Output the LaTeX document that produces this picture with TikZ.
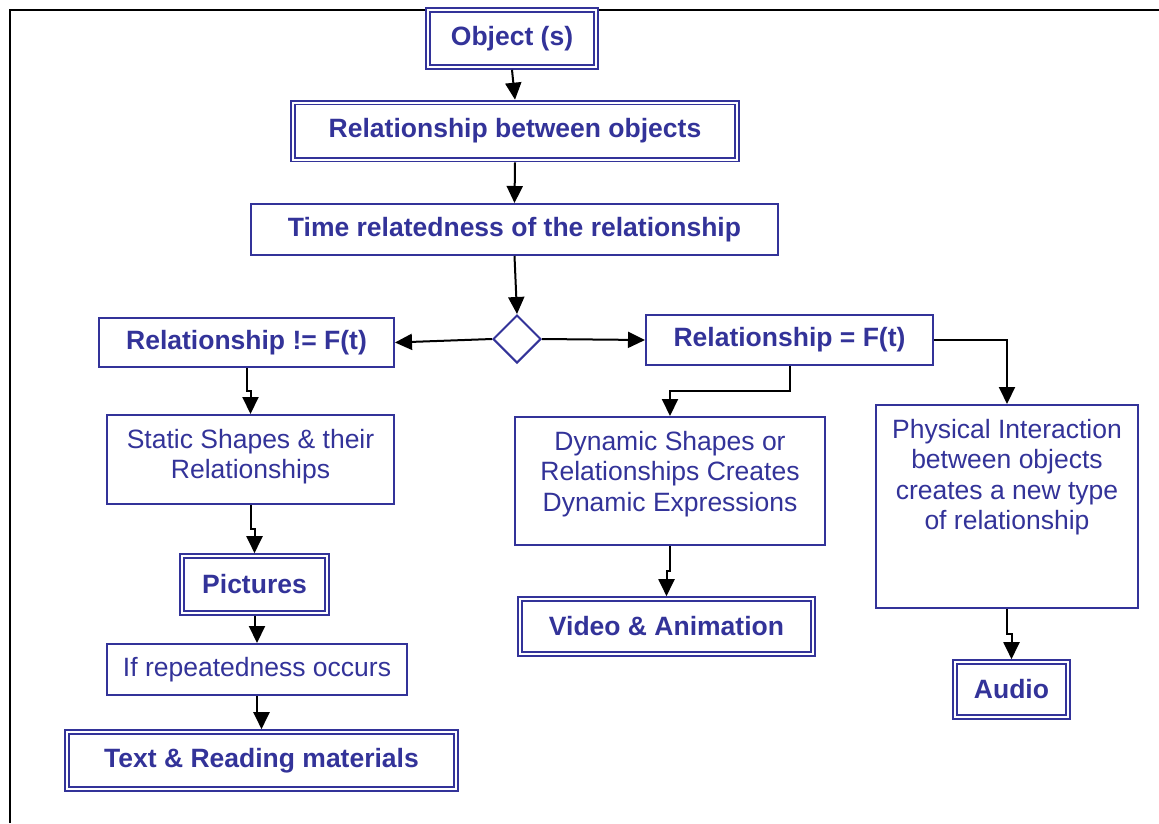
\documentclass[tikz,border=0pt]{standalone}
\usepackage{fontspec}
\setmainfont{Liberation Sans}
\usetikzlibrary{shapes.geometric,arrows.meta,calc}
\definecolor{flowblue}{RGB}{51,51,153}
% text that starts at the top of a tall box
\newcommand{\toptext}[3]{\parbox[c][#2][t]{#1}{\centering\vspace*{14pt}#3\par}}

\begin{document}
\begin{tikzpicture}[x=1pt, y=-1pt,
	every node/.style={font=\fontsize{26.5}{30.5}\selectfont, text=flowblue, inner sep=0pt},
	plainbox/.style={draw=flowblue, line width=2pt, fill=white, align=center},
	boldbox/.style={plainbox, font=\fontsize{26.5}{30.5}\selectfont\bfseries},
	dblbox/.style={draw=flowblue, line width=1.8pt, double, double distance=2pt, outer sep=2.8pt,
		fill=white, font=\fontsize{26.5}{30.5}\selectfont\bfseries},
	decision/.style={diamond, draw=flowblue, line width=2pt, fill=white, minimum size=48pt},
	arr/.style={line width=2pt, -{Triangle[length=17pt, width=16pt]}}]
	\useasboundingbox (0,0) rectangle (1159,823);
	
	% 1. frame
	\draw[line width=2pt] (9.5,823) -- (9.5,10) -- (1159,10);
	
	% 2. top of the chart
	\node[dblbox, minimum width=168pt, minimum height=57pt] (obj) at (512,38.5) {Object (s)};
	\node[dblbox, minimum width=444pt, minimum height=57pt] (rel) at (515,131) {Relationship between objects};
	\node[boldbox, minimum width=527pt, minimum height=51pt] (time) at (514.5,229.5) {Time relatedness of the relationship};
	\node[decision] (dec) at (517,339) {};
	
	% 3. left branch
	\node[boldbox, minimum width=295pt, minimum height=49pt] (neq) at (246.5,342.5) {Relationship != F(t)};
	\node[plainbox] (static) at (250.5,459.5) {\toptext{287pt}{89pt}{Static Shapes \& their\\Relationships}};
	\node[dblbox, minimum width=145pt, minimum height=57pt] (pic) at (254.5,584.5) {Pictures};
	\node[plainbox, minimum width=300pt, minimum height=51pt] (rep) at (257,669.5) {If repeatedness occurs};
	\node[dblbox, minimum width=389pt, minimum height=57pt] (txt) at (261.5,760.5) {Text \& Reading materials};
	
	% 4. right branch
	\node[boldbox, minimum width=287pt, minimum height=50pt] (eq) at (789.5,340) {Relationship = F(t)};
	\node[plainbox] (dyn) at (670,481) {\toptext{310pt}{128pt}{Dynamic Shapes or\\Relationships Creates\\Dynamic Expressions}};
	\node[dblbox, minimum width=293pt, minimum height=55pt] (vid) at (666.5,626.5) {Video \& Animation};
	\node[plainbox] (phys) at (1007,506.5) {\toptext{262pt}{203pt}{Physical Interaction\\between objects\\creates a new type\\of relationship}};
	\node[dblbox, minimum width=113pt, minimum height=55pt] (aud) at (1011.5,689.5) {Audio};
	
	% 5. arrows
	\draw[arr] (obj.south) -- (rel.north);
	\draw[arr] (rel.south) -- (time.north);
	\draw[arr] (time.south) -- (dec.north);
	\draw[arr] (dec.west) -- (neq.east);
	\draw[arr] (dec.east) -- (eq.west);
	\draw[arr] (neq.south) |- ($(neq.south)!0.5!(static.north)$) -| (static.north);
	\draw[arr] (static.south) |- ($(static.south)!0.5!(pic.north)$) -| (pic.north);
	\draw[arr] (pic.south) |- ($(pic.south)!0.5!(rep.north)$) -| (rep.north);
	\draw[arr] (rep.south) |- ($(rep.south)!0.5!(txt.north)$) -| (txt.north);
	\draw[arr] (eq.south) |- ($(eq.south)!0.5!(dyn.north)$) -| (dyn.north);
	\draw[arr] (eq.east) -| (phys.north);
	\draw[arr] (dyn.south) |- ($(dyn.south)!0.5!(vid.north)$) -| (vid.north);
	\draw[arr] (phys.south) |- ($(phys.south)!0.5!(aud.north)$) -| (aud.north);
\end{tikzpicture}
\end{document}
